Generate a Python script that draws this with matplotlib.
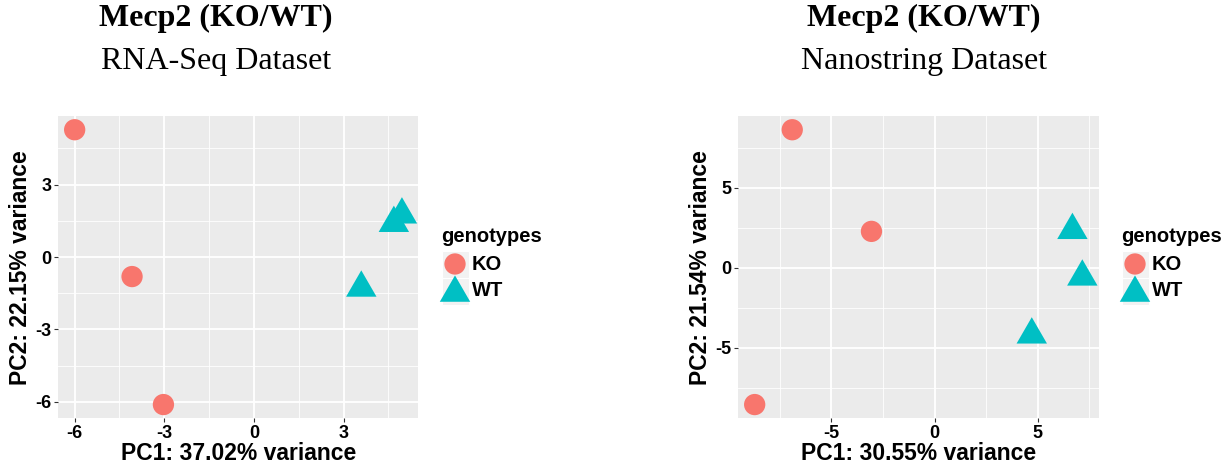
import matplotlib
matplotlib.use("Agg")
import matplotlib.pyplot as plt
import numpy as np
from matplotlib.path import Path
from matplotlib.patches import Rectangle

# PCA scores per sample
rna_ko_pc1 = [-6.0, -4.08, -3.03]
rna_ko_pc2 = [5.27, -0.81, -6.11]
rna_wt_pc1 = [4.68, 4.95, 3.59]
rna_wt_pc2 = [1.40, 1.75, -1.28]

nano_ko_pc1 = [-6.90, -3.06, -8.72]
nano_ko_pc2 = [8.63, 2.28, -8.54]
nano_wt_pc1 = [6.68, 7.16, 4.71]
nano_wt_pc2 = [2.35, -0.56, -4.18]

rna_xticks = [-6, -3, 0, 3]
rna_yticks = [-6, -3, 0, 3]
nano_xticks = [-5, 0, 5]
nano_yticks = [-5, 0, 5]

genotypes = ["KO", "WT"]
KO_COL = "#F8766D"
WT_COL = "#00BFC4"

W, H = 1230, 472
fig = plt.figure(figsize=(W / 100, H / 100), dpi=100)

SANS = "Liberation Sans"
SERIF = "Liberation Serif"

tri = Path([(-1, -0.577), (1, -0.577), (0, 1.155), (-1, -0.577)],
           [Path.MOVETO, Path.LINETO, Path.LINETO, Path.CLOSEPOLY])

CIRC_S = 235
TRI_S = 640


def px_axes(x0, y0, x1, y1):
    return fig.add_axes([x0 / W, 1 - y1 / H, (x1 - x0) / W, (y1 - y0) / H])


def expand(vals):
    lo, hi = min(vals), max(vals)
    d = (hi - lo) * 0.05
    return lo - d, hi + d


def panel(box, ko_x, ko_y, wt_x, wt_y, xticks, yticks, xlab, ylab):
    ax = px_axes(*box)
    ax.set_facecolor("#EBEBEB")
    xl = expand(ko_x + wt_x)
    yl = expand(ko_y + wt_y)
    ax.set_xlim(*xl)
    ax.set_ylim(*yl)
    step_x = xticks[1] - xticks[0]
    step_y = yticks[1] - yticks[0]
    mx = np.arange(xticks[0] - step_x * 1.5, xl[1], step_x)
    my = np.arange(yticks[0] - step_y * 1.5, yl[1], step_y)
    mx = [m for m in mx if xl[0] < m < xl[1]]
    my = [m for m in my if yl[0] < m < yl[1]]
    for m in mx:
        ax.axvline(m, color="white", lw=0.6, zorder=0.5)
    for m in my:
        ax.axhline(m, color="white", lw=0.6, zorder=0.5)
    for t in xticks:
        ax.axvline(t, color="white", lw=1.3, zorder=0.6)
    for t in yticks:
        ax.axhline(t, color="white", lw=1.3, zorder=0.6)
    ax.set_xticks(xticks)
    ax.set_yticks(yticks)
    ax.set_xticklabels([str(t) for t in xticks])
    ax.set_yticklabels([str(t) for t in yticks])
    ax.tick_params(length=3, width=0.8, color="#333333", pad=2,
                   labelsize=13, labelcolor="black")
    for lab in ax.get_xticklabels() + ax.get_yticklabels():
        lab.set_fontfamily(SANS)
        lab.set_fontweight("bold")
    for s in ax.spines.values():
        s.set_visible(False)
    ax.scatter(ko_x, ko_y, s=CIRC_S, marker="o", color=KO_COL,
               edgecolors="none", zorder=3)
    ax.scatter(wt_x, wt_y, s=TRI_S, marker=tri, color=WT_COL,
               edgecolors="none", zorder=3)
    ax.set_xlabel(xlab, fontsize=16.5, fontweight="bold", family=SANS,
                  labelpad=0)
    ax.set_ylabel(ylab, fontsize=16.5, fontweight="bold", family=SANS,
                  labelpad=2)
    return ax


def titles(cx, sub):
    fig.text(cx / W, 1 - 18 / H, "Mecp2 (KO/WT)", ha="center", va="center",
             family=SERIF, fontweight="bold", fontsize=23)
    fig.text(cx / W, 1 - 62 / H, sub, ha="center", va="center",
             family=SERIF, fontsize=23)


# overlay in pixel coordinates for the legends
lax = px_axes(0, 0, W, H)
lax.set_xlim(0, W)
lax.set_ylim(H, 0)
lax.axis("off")


def legend(x0, ytitle):
    lax.text(x0, ytitle, "genotypes", ha="left", va="center",
             family=SANS, fontweight="bold", fontsize=14.5)
    keys = [(264, "o", KO_COL, CIRC_S), (291, tri, WT_COL, TRI_S)]
    for (yc, mk, col, s), name in zip(keys, genotypes):
        lax.add_patch(Rectangle((x0 + 0.5, yc - 13.5), 27.5, 27.5,
                                facecolor="#F2F2F2", edgecolor="white", lw=0.8))
        lax.scatter([x0 + 14], [yc + (2 if mk is tri else 0)], s=s, marker=mk,
                    color=col, edgecolors="none", zorder=3)
        lax.text(x0 + 30.5, yc, name, ha="left", va="center", family=SANS,
                 fontweight="bold", fontsize=14.5)


panel((58.3, 116, 418.3, 418.3), rna_ko_pc1, rna_ko_pc2, rna_wt_pc1, rna_wt_pc2,
      rna_xticks, rna_yticks, "PC1: 37.02% variance", "PC2: 22.15% variance")
panel((738.3, 116, 1098.7, 418.3), nano_ko_pc1, nano_ko_pc2, nano_wt_pc1,
      nano_wt_pc2, nano_xticks, nano_yticks, "PC1: 30.55% variance",
      "PC2: 21.54% variance")

titles(216, "RNA-Seq Dataset")
titles(924, "Nanostring Dataset")
legend(441, 237)
legend(1121, 237)

fig.savefig("out.png", dpi=100)
